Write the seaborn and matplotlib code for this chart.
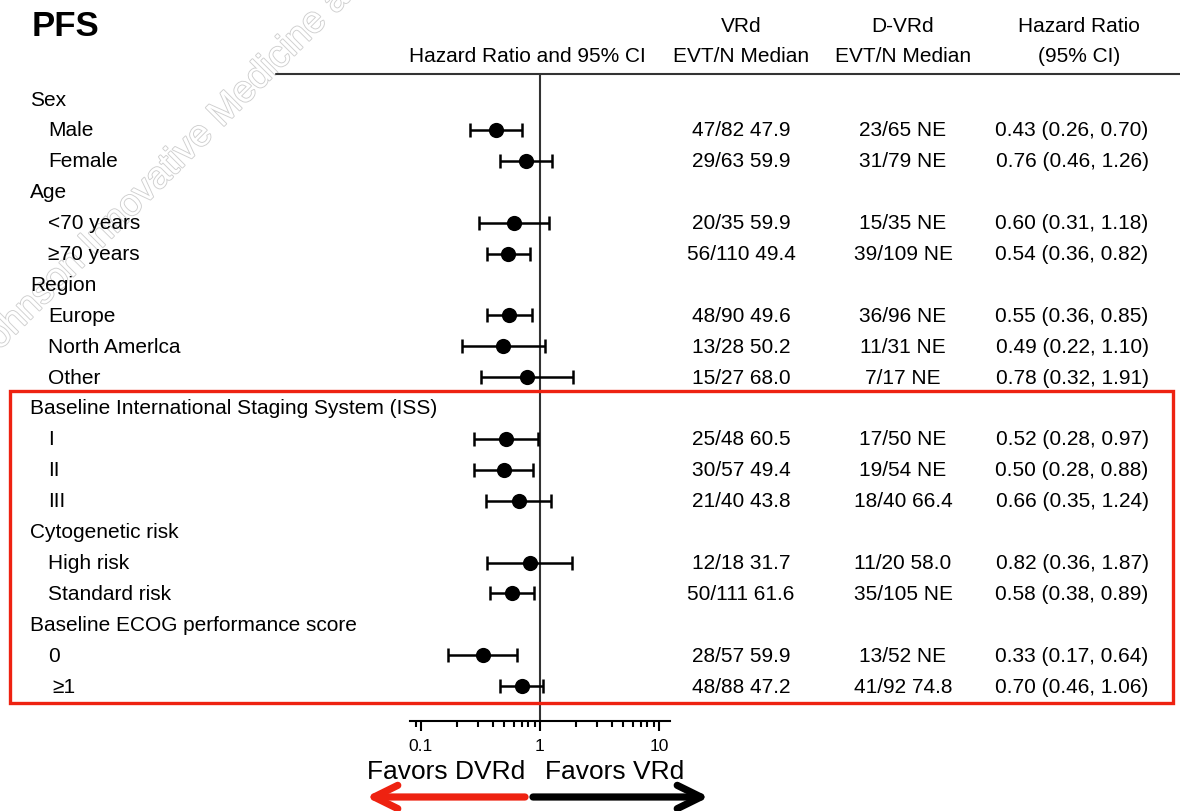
import numpy as np
import pandas as pd
import seaborn as sns
import matplotlib.pyplot as plt
import matplotlib.transforms as mtransforms
import matplotlib.patheffects as pe
from matplotlib.patches import Rectangle
from matplotlib.lines import Line2D
from matplotlib.ticker import LogLocator, NullFormatter

sns.set_style("white")
plt.rcParams['font.family'] = ['Liberation Sans', 'DejaVu Sans']
plt.rcParams['text.color'] = 'black'
plt.rcParams['xtick.color'] = 'black'

##datos de la tabla (una entrada por fila)
etiquetas = ["Sex", "Male", "Female",
             "Age", "<70 years", "≥70 years",
             "Region", "Europe", "North Amerlca", "Other",
             "Baseline International Staging System (ISS)", "I", "II", "III",
             "Cytogenetic risk", "High risk", "Standard risk",
             "Baseline ECOG performance score", "0", "≥1"]
es_grupo = [1, 0, 0, 1, 0, 0, 1, 0, 0, 0, 1, 0, 0, 0, 1, 0, 0, 1, 0, 0]
hr = [np.nan, 0.43, 0.76, np.nan, 0.60, 0.54, np.nan, 0.55, 0.49, 0.78,
      np.nan, 0.52, 0.50, 0.66, np.nan, 0.82, 0.58, np.nan, 0.33, 0.70]
ic_inf = [np.nan, 0.26, 0.46, np.nan, 0.31, 0.36, np.nan, 0.36, 0.22, 0.32,
          np.nan, 0.28, 0.28, 0.35, np.nan, 0.36, 0.38, np.nan, 0.17, 0.46]
ic_sup = [np.nan, 0.70, 1.26, np.nan, 1.18, 0.82, np.nan, 0.85, 1.10, 1.91,
          np.nan, 0.97, 0.88, 1.24, np.nan, 1.87, 0.89, np.nan, 0.64, 1.06]
vrd = ["", "47/82 47.9", "29/63 59.9", "", "20/35 59.9", "56/110 49.4", "",
       "48/90 49.6", "13/28 50.2", "15/27 68.0", "", "25/48 60.5", "30/57 49.4",
       "21/40 43.8", "", "12/18 31.7", "50/111 61.6", "", "28/57 59.9", "48/88 47.2"]
dvrd = ["", "23/65 NE", "31/79 NE", "", "15/35 NE", "39/109 NE", "",
        "36/96 NE", "11/31 NE", "7/17 NE", "", "17/50 NE", "19/54 NE",
        "18/40 66.4", "", "11/20 58.0", "35/105 NE", "", "13/52 NE", "41/92 74.8"]
ticks_x = [0.1, 1, 10]
ticks_lbl = ["0.1", "1", "10"]

df = pd.DataFrame({'fila': np.arange(len(etiquetas)), 'etiqueta': etiquetas, 'grupo': es_grupo,
                   'hr': hr, 'lo': ic_inf, 'hi': ic_sup, 'vrd': vrd, 'dvrd': dvrd})
sub = df.dropna()

W, H = 1180, 812
fig = plt.figure(figsize=(W / 100, H / 100), dpi=100)

##marca de agua (detras de todo)
fig.text(-14 / W, 1 - 365 / H, "Johnson Innovative Medicine and", rotation=45,
         rotation_mode='anchor', ha='left', va='baseline', fontsize=27, color='white', zorder=-1,
         path_effects=[pe.Stroke(linewidth=1.3, foreground='#cfcfcf'), pe.Normal()])

##eje del forest plot (pixeles de la imagen -> fraccion)
ax = fig.add_axes([410 / W, 1 - 722 / H, 260 / W, 647 / H])
ax.set_xscale('log')
ax.axvline(1, color='#333333', lw=1.5, zorder=1)
ax.errorbar(sub.hr, sub.fila, xerr=[sub.hr - sub.lo, sub.hi - sub.hr], fmt='none',
            ecolor='black', elinewidth=1.8, capsize=5.3, capthick=1.8, zorder=2)
sns.scatterplot(data=sub, x='hr', y='fila', ax=ax, color='black', s=120,
                linewidth=0, zorder=3, legend=False)
ax.set_xlim(10 ** -1.0924, 10 ** 1.0924)
ax.set_ylim((722 - 100) / 30.9, (75 - 100) / 30.9)
ax.set(xlabel='', ylabel='')
ax.set_yticks([])
ax.set_xticks(ticks_x)
ax.set_xticklabels(ticks_lbl)
ax.xaxis.set_minor_locator(LogLocator(base=10, subs=np.arange(2, 10)))
ax.xaxis.set_minor_formatter(NullFormatter())
ax.tick_params(axis='x', which='major', bottom=True, direction='out', length=7, width=1.5,
               labelsize=12.5, pad=5)
ax.tick_params(axis='x', which='minor', bottom=True, direction='out', length=4.5, width=1.5)
sns.despine(ax=ax, left=True)
ax.spines['bottom'].set_linewidth(1.5)
ax.spines['bottom'].set_color('black')
ax.patch.set_alpha(0)

##columnas de texto
tr = mtransforms.blended_transform_factory(fig.transFigure, ax.transData)
fs = 15
for _, r in df.iterrows():
    x0 = 30 if r.grupo else (52 if r.etiqueta == "≥1" else 48)
    ax.text(x0 / W, r.fila, r.etiqueta, transform=tr, ha='left', va='center', fontsize=fs)
    if not r.grupo:
        ax.text(741 / W, r.fila, r.vrd, transform=tr, ha='center', va='center', fontsize=fs)
        ax.text(903 / W, r.fila, r.dvrd, transform=tr, ha='center', va='center', fontsize=fs)
        ax.text(1072 / W, r.fila, f"{r.hr:.2f} ({r.lo:.2f}, {r.hi:.2f})", transform=tr,
                ha='center', va='center', fontsize=fs)

##encabezados
fig.text(32 / W, 1 - 27 / H, "PFS", fontsize=25, fontweight='bold', ha='left', va='center')
fig.text(741 / W, 1 - 26 / H, "VRd", fontsize=fs, ha='center', va='center')
fig.text(903 / W, 1 - 26 / H, "D-VRd", fontsize=fs, ha='center', va='center')
fig.text(1079 / W, 1 - 26 / H, "Hazard Ratio", fontsize=fs, ha='center', va='center')
fig.text(527 / W, 1 - 56 / H, "Hazard Ratio and 95% CI", fontsize=fs, ha='center', va='center')
fig.text(741 / W, 1 - 56 / H, "EVT/N Median", fontsize=fs, ha='center', va='center')
fig.text(903 / W, 1 - 56 / H, "EVT/N Median", fontsize=fs, ha='center', va='center')
fig.text(1079 / W, 1 - 56 / H, "(95% CI)", fontsize=fs, ha='center', va='center')
fig.add_artist(Line2D([276 / W, 1], [1 - 75 / H, 1 - 75 / H], color='#333333', lw=1.5))

##recuadro rojo
fig.add_artist(Rectangle((10 / W, 1 - 704 / H), 1163 / W, 312 / H, fill=False,
                         ec='#ee2211', lw=2.4))

##flechas de favorece
fig.text(525 / W, 1 - 772 / H, "Favors DVRd", fontsize=19, ha='right', va='center')
fig.text(545 / W, 1 - 772 / H, "Favors VRd", fontsize=19, ha='left', va='center')
estilo = '->,head_length=0.85,head_width=0.42'
ax.annotate('', xy=(366, H - 798), xytext=(525, H - 798), xycoords='figure pixels',
            textcoords='figure pixels', annotation_clip=False,
            arrowprops=dict(arrowstyle=estilo, lw=5.2, color='#ee2211', mutation_scale=20,
                            shrinkA=0, shrinkB=0, joinstyle='round'))
ax.annotate('', xy=(709, H - 798), xytext=(533, H - 798), xycoords='figure pixels',
            textcoords='figure pixels', annotation_clip=False,
            arrowprops=dict(arrowstyle=estilo, lw=5.2, color='black', mutation_scale=20,
                            shrinkA=0, shrinkB=0, joinstyle='round'))

fig.savefig('out.png', dpi=100)
